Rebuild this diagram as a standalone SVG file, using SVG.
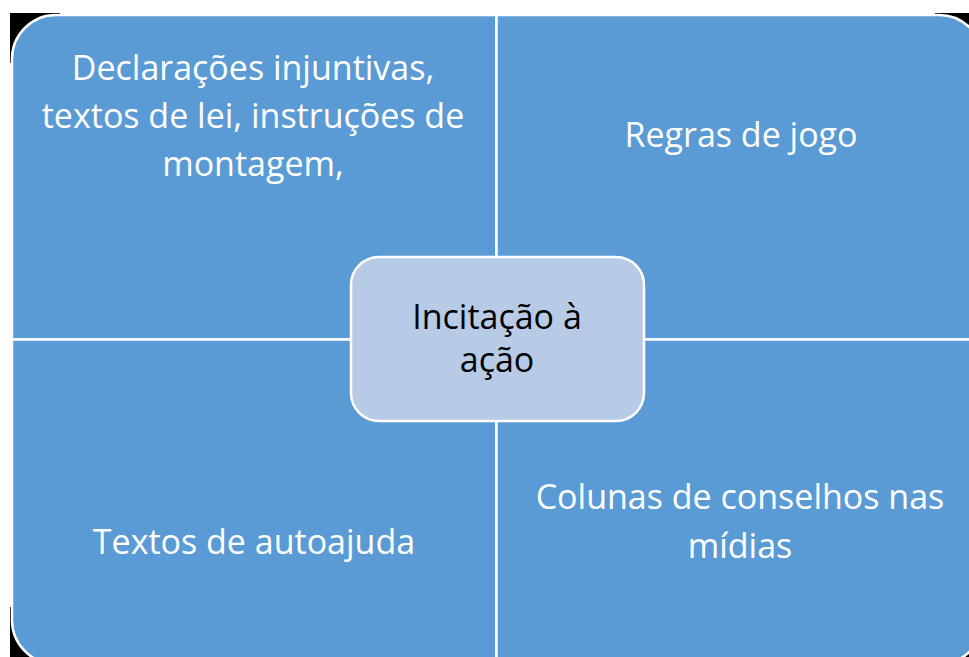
<svg xmlns="http://www.w3.org/2000/svg" width="969" height="657" viewBox="0 0 969 657">
<style>
.q{fill:#5B9BD5;stroke:#FFFFFF;stroke-width:2.5}
.c{fill:#B7CBE7;stroke:#FFFFFF;stroke-width:2.5}
.t{font-family:"Open Sans","Liberation Sans",sans-serif;font-size:34px;text-anchor:middle}
.w{fill:#FFFFFF}
.k{fill:#000000}
</style>
<rect width="969" height="657" fill="#FFFFFF"/>
<g id="corners" fill="#000000">
<rect x="10" y="13" width="50" height="50"/>
<rect x="935" y="13" width="34" height="50"/>
<rect x="10" y="607" width="50" height="50"/>
<rect x="935" y="607" width="34" height="50"/>
</g>
<g id="connectors"></g>
<g id="q-tl">
<path class="q" d="M12,339.5 V59 A44,44 0 0 1 56,15 H496.5 V339.5 Z"/>
<text class="t w" x="253" y="80">Declarações injuntivas,</text>
<text class="t w" x="253" y="128">textos de lei, instruções de</text>
<text class="t w" x="253" y="176">montagem,</text>
</g>
<g id="q-tr">
<path class="q" d="M496.5,15 H939 A44,44 0 0 1 983,59 V339.5 H496.5 Z"/>
<text class="t w" x="741" y="147">Regras de jogo</text>
</g>
<g id="q-bl">
<path class="q" d="M12,339.5 H496.5 V664 H56 A44,44 0 0 1 12,620 Z"/>
<text class="t w" x="254" y="554">Textos de autoajuda</text>
</g>
<g id="q-br">
<path class="q" d="M496.5,339.5 H983 V620 A44,44 0 0 1 939,664 H496.5 Z"/>
<text class="t w" x="740" y="509">Colunas de conselhos nas</text>
<text class="t w" x="740" y="558">mídias</text>
</g>
<g id="center">
<rect class="c" x="351" y="257" width="293" height="164" rx="28" ry="28"/>
<text class="t k" x="497" y="329">Incitação à</text>
<text class="t k" x="497" y="372">ação</text>
</g>
</svg>
